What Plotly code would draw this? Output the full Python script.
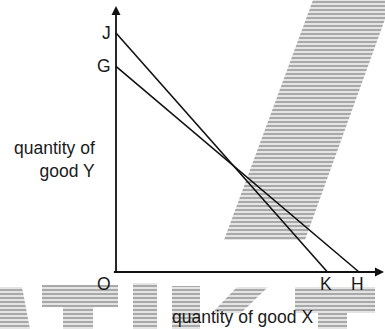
import plotly.graph_objects as go

# Budget-line diagram: two lines J-K and G-H in (good X, good Y) space
y_intercepts = {"J": 10.0, "G": 8.6}
x_intercepts = {"K": 8.7, "H": 10.0}
line_pairs = [("J", "K"), ("G", "H")]

x_axis_title = "quantity of good X"
y_axis_title = "quantity of<br>good Y"
origin_label = "O"

# gray print-through blotches, in page pixels (x right, y down)
band = [(313, 0), (392, 0), (305, 240), (224, 240)]
blotches = [
    [(0, 287), (22, 287), (30, 329), (0, 329)],
    [(42, 285), (118, 285), (118, 307), (93, 307), (93, 329), (63, 329), (63, 307), (42, 307)],
    [(133, 283), (157, 283), (157, 329), (133, 329)],
    [(172, 286), (200, 286), (200, 329), (172, 329)],
    [(237, 287), (268, 287), (241, 313), (212, 313)],
    [(295, 287), (375, 287), (375, 313), (295, 313)],
    [(318, 313), (347, 313), (347, 329), (318, 329)],
]

W, H = 385, 329
ox, oy = 116, 272          # origin in page pixels
sx, sy = 24.3, 23.9        # pixels per unit


def to_data(px, py):
    return (px - ox) / sx, (oy - py) / sy


fig = go.Figure()

for poly in [band] + blotches:
    pts = [to_data(*p) for p in poly] + [to_data(*poly[0])]
    fig.add_trace(go.Scatter(
        x=[p[0] for p in pts], y=[p[1] for p in pts], mode="lines",
        line=dict(width=0), fill="toself", fillcolor="rgba(0,0,0,0)",
        fillpattern=dict(shape="-", fgcolor="#3a3a3a", bgcolor="#e4e4e4",
                         size=4, solidity=0.35),
        hoverinfo="skip", showlegend=False))

for a, b in line_pairs:
    fig.add_trace(go.Scatter(
        x=[0, x_intercepts[b]], y=[y_intercepts[a], 0], mode="lines",
        line=dict(color="#111111", width=1.6), showlegend=False))

x_max = (384 - ox) / sx
y_max = (oy - 6) / sy
font = dict(family="Liberation Sans, Arial, sans-serif", size=17.5, color="#1a1a1a")

ann = [
    # axes with arrowheads
    dict(x=0, y=y_max, ax=0, ay=-0.05, xref="x", yref="y", axref="x", ayref="y",
         showarrow=True, arrowhead=2, arrowsize=1.0, arrowwidth=1.8, arrowcolor="#111", text=""),
    dict(x=x_max, y=0, ax=-0.15, ay=0, xref="x", yref="y", axref="x", ayref="y",
         showarrow=True, arrowhead=2, arrowsize=1.0, arrowwidth=1.8, arrowcolor="#111", text=""),
]
label_x = {"J": -0.41, "G": -0.49}
for name, v in y_intercepts.items():
    ann.append(dict(x=label_x[name], y=v + 0.02, text=name, showarrow=False, font=font,
                    xanchor="center", yanchor="middle"))
for name, v in x_intercepts.items():
    ann.append(dict(x=v - 0.05, y=-0.5, text=name, showarrow=False, font=font,
                    xanchor="center", yanchor="middle"))
ann.append(dict(x=-0.49, y=-0.5, text=origin_label, showarrow=False, font=font,
                xanchor="center", yanchor="middle"))
ann.append(dict(x=-0.78, y=4.72, text=y_axis_title, showarrow=False, font=font,
                xanchor="right", yanchor="middle", align="right"))
ann.append(dict(x=5.19, y=-1.9, text=x_axis_title, showarrow=False, font=font,
                xanchor="center", yanchor="middle"))

fig.update_layout(
    width=W, height=H, margin=dict(l=0, r=0, t=0, b=0),
    paper_bgcolor="white", plot_bgcolor="white",
    xaxis=dict(range=[-ox / sx, (W - ox) / sx], visible=False, fixedrange=True),
    yaxis=dict(range=[-(H - oy) / sy, oy / sy], visible=False, fixedrange=True),
    annotations=ann,
)

fig.write_html("out.html")
